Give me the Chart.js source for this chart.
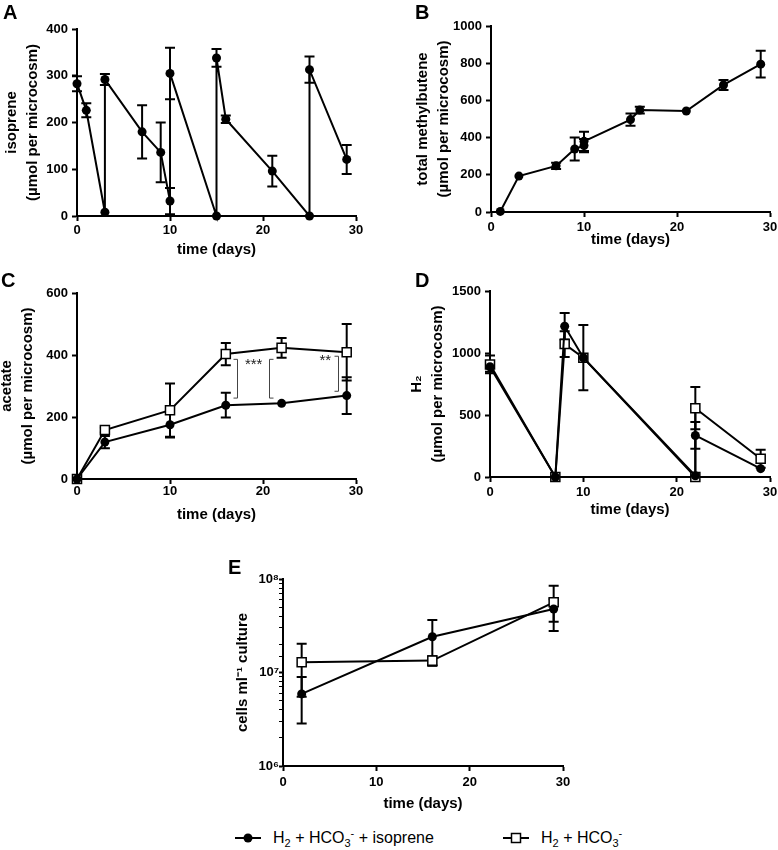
<!DOCTYPE html>
<html>
<head>
<meta charset="utf-8">
<script src="https://cdn.jsdelivr.net/npm/chart.js@4.4.1/dist/chart.umd.min.js"></script>
<style>
  body { margin: 0; width: 778px; height: 850px; overflow: hidden; background: #fff; position: relative; font-family: "Liberation Sans", Arial, sans-serif; }
  canvas { position: absolute; }
  .tag { position: absolute; font-weight: bold; font-size: 20px; line-height: 20px; }
  .leg { position: absolute; top: 827px; height: 22px; display: flex; align-items: center; font-size: 16px; color: #000; }
  .leg svg { margin-right: 12px; }
  .leg sub, .leg sup { font-size: 11px; line-height: 0; }
</style>
</head>
<body>
<canvas id="chartA" width="390" height="270" style="left:0;top:0"></canvas>
<canvas id="chartB" width="400" height="270" style="left:390px;top:0"></canvas>
<canvas id="chartC" width="390" height="260" style="left:0;top:270px"></canvas>
<canvas id="chartD" width="400" height="260" style="left:390px;top:270px"></canvas>
<canvas id="chartE" width="400" height="270" style="left:200px;top:545px"></canvas>

<div class="tag" style="left:3px;top:2px">A</div>
<div class="tag" style="left:415px;top:2px">B</div>
<div class="tag" style="left:1px;top:270px">C</div>
<div class="tag" style="left:415px;top:270px">D</div>
<div class="tag" style="left:228px;top:557px">E</div>

<div class="leg" style="left:235px">
  <svg width="26" height="12"><line x1="0" y1="6" x2="26" y2="6" stroke="#000" stroke-width="2"/><circle cx="13" cy="6" r="4.5" fill="#000"/></svg>
  <span>H<sub>2</sub> + HCO<sub>3</sub><sup>-</sup> + isoprene</span>
</div>
<div class="leg" style="left:503px">
  <svg width="26" height="12"><line x1="0" y1="6" x2="26" y2="6" stroke="#000" stroke-width="2"/><rect x="8.5" y="1.5" width="9" height="9" fill="#fff" stroke="#000" stroke-width="1.5"/></svg>
  <span>H<sub>2</sub> + HCO<sub>3</sub><sup>-</sup></span>
</div>

<script>
const FONT = '"Liberation Sans", Arial, sans-serif';
const SERIES_ISO = 'H₂ + HCO₃⁻ + isoprene';
const SERIES_CTL = 'H₂ + HCO₃⁻';

// A - isoprene (re-added on days 3, 10, 15, 25)
const isoDays = [0, 1, 3, 3, 7, 9, 10, 10, 15, 15, 16, 21, 25, 25, 29];
const isoVals = [283, 226, 8, 292, 180, 136, 32, 305, 0, 338, 207, 96, 0, 313, 121];
const isoErr  = [16, 15, 0, 12, 57, 64, 28, 55, 0, 19, 8, 33, 0, 28, 31];

// B - total methylbutene
const mbDays = [1, 3, 7, 9, 10, 10, 15, 16, 21, 25, 29];
const mbVals = [3, 193, 248, 339, 357, 380, 497, 548, 543, 683, 795];
const mbErr  = [0, 0, 17, 62, 36, 52, 33, 18, 0, 27, 72];

// C - acetate
const acDays   = [0, 3, 10, 16, 22, 29];
const acIso    = [0, 119, 175, 238, 244, 269];
const acIsoErr = [0, 20, 41, 40, 0, 59];
const acCtl    = [0, 158, 222, 403, 423, 409];
const acCtlErr = [0, 8, 86, 36, 32, 91];
// significance brackets: [day, low, high, arm direction] and stars: [day, value, text]
const sigBrackets = [[17.2, 261, 386, -1], [20.6, 261, 386, 1], [28.1, 283, 396, -1]];
const sigStars    = [[19.0, 367, '***'], [26.7, 380, '**']];

// D - H2
const h2Days   = [0, 7, 8, 10, 22, 22, 29];
const h2Iso    = [889, 0, 1216, 962, 10, 335, 67];
const h2IsoErr = [40, 0, 107, 0, 0, 108, 0];
const h2Ctl    = [908, 0, 1072, 962, 0, 555, 147];
const h2CtlErr = [72, 0, 104, 263, 0, 170, 73];

// E - cell counts
const cellDays   = [2, 16, 29];
const cellIso    = [5.9e6, 2.41e7, 4.78e7];
const cellIsoErr = [3.05e6, 1.23e7, 1.3e7];
const cellCtl    = [1.29e7, 1.34e7, 5.63e7];
const cellCtlErr = [0.74e7, 0.15e7, 2.85e7];

const SUP = { 6: '⁶', 7: '⁷', 8: '⁸' };

const tickFont = { family: FONT, size: 13, weight: 'bold' };
const xTitleFont = { family: FONT, size: 15, weight: 'bold', lineHeight: 1.2 };
const yTitleFont = { family: FONT, size: 15, weight: 'bold', lineHeight: 1.4 };

const toPoints = (xs, ys) => xs.map((x, i) => ({ x, y: ys[i] }));

const circleSet = (xs, ys, errs) => ({
  label: SERIES_ISO, data: toPoints(xs, ys), errors: errs,
  borderColor: '#000', borderWidth: 2, tension: 0, clip: false,
  pointStyle: 'circle', pointRadius: 4.5, pointBackgroundColor: '#000', pointBorderWidth: 0
});

const squareSet = (xs, ys, errs) => ({
  label: SERIES_CTL, data: toPoints(xs, ys), errors: errs,
  borderColor: '#000', borderWidth: 2, tension: 0, clip: false,
  pointStyle: 'rect', pointRadius: 6.4, pointBackgroundColor: '#fff', pointBorderColor: '#000', pointBorderWidth: 1.5
});

// vertical error bars with caps, drawn under the markers
const errorBars = {
  id: 'errorBars',
  beforeDatasetsDraw(chart) {
    const { ctx, scales: { x, y } } = chart;
    ctx.save();
    ctx.strokeStyle = '#000';
    ctx.lineWidth = 2;
    chart.data.datasets.forEach(ds => {
      if (!ds.errors) return;
      ds.data.forEach((p, i) => {
        const e = ds.errors[i];
        if (!e) return;
        const px = x.getPixelForValue(p.x);
        const top = y.getPixelForValue(p.y + e);
        const bot = y.getPixelForValue(Math.max(p.y - e, y.min));
        ctx.beginPath();
        ctx.moveTo(px, top); ctx.lineTo(px, bot);
        ctx.moveTo(px - 5, top); ctx.lineTo(px + 5, top);
        ctx.moveTo(px - 5, bot); ctx.lineTo(px + 5, bot);
        ctx.stroke();
      });
    });
    ctx.restore();
  }
};

// brackets and stars of panel C
const sigMarks = {
  id: 'sigMarks',
  afterDatasetsDraw(chart) {
    const { ctx, scales: { x, y } } = chart;
    ctx.save();
    ctx.strokeStyle = '#444';
    ctx.lineWidth = 1;
    sigBrackets.forEach(([d, lo, hi, dir]) => {
      const px = Math.round(x.getPixelForValue(d)) + 0.5;
      const t = y.getPixelForValue(hi);
      const b = y.getPixelForValue(lo);
      ctx.beginPath();
      ctx.moveTo(px + 4 * dir, t); ctx.lineTo(px, t); ctx.lineTo(px, b); ctx.lineTo(px + 4 * dir, b);
      ctx.stroke();
    });
    ctx.fillStyle = '#222';
    ctx.font = '15px ' + FONT;
    ctx.textAlign = 'center';
    ctx.textBaseline = 'middle';
    sigStars.forEach(([d, v, s]) => ctx.fillText(s, x.getPixelForValue(d), y.getPixelForValue(v)));
    ctx.restore();
  }
};

const xAxis = (g) => ({
  type: 'linear', min: 0, max: 30,
  ticks: { stepSize: 10, color: '#000', font: tickFont, padding: g.xTickPad, maxRotation: 0, callback: (v) => String(v) },
  grid: { drawOnChartArea: false, tickLength: 5, tickWidth: 2, tickColor: '#000' },
  border: { color: '#000', width: 2 },
  title: { display: true, text: 'time (days)', color: '#000', font: xTitleFont, padding: { top: 0, bottom: g.xTitlePad } },
  afterFit: (s) => { s.height = g.xH; }
});

const yAxis = (g, title, max, step) => ({
  type: 'linear', min: 0, max,
  ticks: { stepSize: step, color: '#000', font: tickFont, padding: 4, callback: (v) => String(v) },
  grid: { drawOnChartArea: false, tickLength: 5, tickWidth: 2, tickColor: '#000' },
  border: { color: '#000', width: 2 },
  title: { display: true, text: title, color: '#000', font: yTitleFont, padding: { top: g.yTitlePad, bottom: 0 } },
  afterFit: (s) => { s.width = g.yW; }
});

const logAxis = (g, title) => ({
  type: 'logarithmic', min: 1e6, max: 1e8,
  ticks: {
    autoSkip: false, color: '#000', font: tickFont, padding: 0,
    callback: (v) => {
      const e = Math.round(Math.log10(v));
      return Math.abs(Math.log10(v) - e) < 1e-9 ? '10' + SUP[e] : '';
    }
  },
  grid: {
    drawOnChartArea: false, tickLength: 4, tickColor: '#000',
    tickWidth: (c) => (c.tick && Math.abs(Math.log10(c.tick.value) % 1) < 1e-9 ? 2 : 1)
  },
  border: { color: '#000', width: 2 },
  title: { display: true, text: title, color: '#000', font: yTitleFont, padding: { top: g.yTitlePad, bottom: 0 } },
  afterFit: (s) => { s.width = g.yW; }
});

const makeChart = (id, g, datasets, yCfg, extra = []) => new Chart(document.getElementById(id), {
  type: 'line',
  data: { datasets },
  options: {
    responsive: false, animation: false, devicePixelRatio: 1, events: [],
    layout: { padding: { top: g.top, right: g.right, left: 0, bottom: 0 } },
    plugins: { legend: { display: false }, tooltip: { enabled: false } },
    scales: { x: xAxis(g), y: yCfg }
  },
  plugins: [errorBars, ...extra]
});

// panel geometry: plot area offsets inside each canvas
const gA = { top: 29, right: 34, yW: 77, xH: 54, xTickPad: 2, xTitlePad: 11, yTitlePad: 1.5 };
const gB = { top: 26, right: 20, yW: 101, xH: 58, xTickPad: 3, xTitlePad: 21, yTitlePad: 22.5 };
const gC = { top: 23, right: 34, yW: 77, xH: 51, xTickPad: 0, xTitlePad: 6, yTitlePad: -4 };
const gD = { top: 21, right: 20, yW: 100, xH: 53, xTickPad: 3, xTitlePad: 11, yTitlePad: 16.5 };
const gE = { top: 34, right: 37, yW: 83, xH: 49, xTickPad: 4, xTitlePad: 2, yTitlePad: 32.5 };

const micro = '(µmol per microcosm)';

makeChart('chartA', gA, [circleSet(isoDays, isoVals, isoErr)],
  yAxis(gA, ['isoprene', micro], 400, 100));

makeChart('chartB', gB, [circleSet(mbDays, mbVals, mbErr)],
  yAxis(gB, ['total methylbutene', micro], 1000, 200));

makeChart('chartC', gC, [circleSet(acDays, acIso, acIsoErr), squareSet(acDays, acCtl, acCtlErr)],
  yAxis(gC, ['acetate', micro], 600, 200), [sigMarks]);

makeChart('chartD', gD, [circleSet(h2Days, h2Iso, h2IsoErr), squareSet(h2Days, h2Ctl, h2CtlErr)],
  yAxis(gD, ['H₂', micro], 1500, 500));

makeChart('chartE', gE, [circleSet(cellDays, cellIso, cellIsoErr), squareSet(cellDays, cellCtl, cellCtlErr)],
  logAxis(gE, 'cells ml⁻¹ culture'));
</script>
</body>
</html>
